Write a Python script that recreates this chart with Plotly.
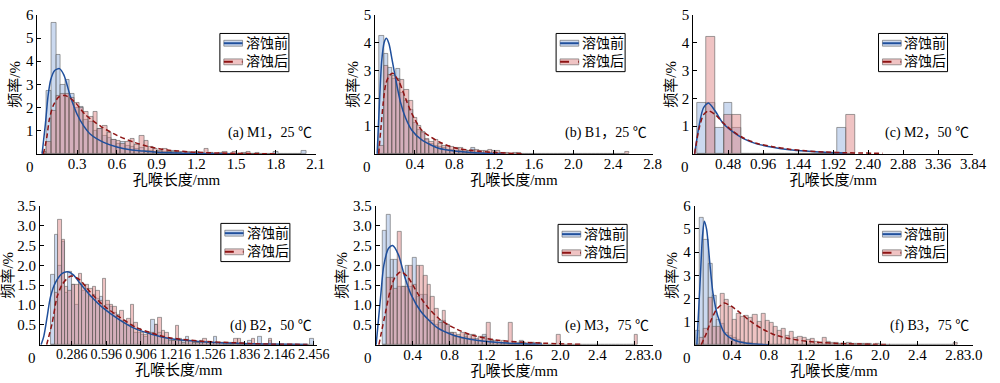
import plotly.graph_objects as go

# ======================= DATA =======================
# (a) M1, 25 ℃  -- histogram bins: start, width ; heights in %
bin_start_a, bin_width_a = 0.035, 0.035
blue_a = [0, 2.7, 5.65, 4.27, 3.0, 3.2, 2.6, 2.0, 2.05, 1.45,
          1.4, 1.0, 1.1, 0.8, 0.7, 0.6, 0.45, 0.5, 0.35, 0.3,
          0.2, 0.25, 0.15, 0.15, 0.1, 0.1, 0.1, 0.1, 0.15, 0.08,
          0, 0.05, 0, 0.05, 0, 0, 0.05, 0, 0, 0,
          0, 0, 0, 0, 0, 0, 0, 0, 0, 0,
          0.1, 0, 0, 0, 0, 0, 0.12]
red_a = [0.1, 0.5, 1.85, 2.5, 2.6, 2.6, 2.4, 2.2, 2.0, 1.8,
         1.6, 1.8, 1.1, 1.2, 0.9, 0.6, 0.55, 0.45, 0.5, 0.65,
         0.4, 0.8, 0.55, 0.3, 0.2, 0.15, 0.2, 0.1, 0.1, 0.05,
         0.1, 0.1, 0.05, 0.1, 0.05, 0.2, 0.05, 0, 0.05, 0.08,
         0, 0.08, 0, 0.05, 0.08, 0, 0.05]
fit_blue_a_x = [0.035, 0.06, 0.08, 0.10, 0.13, 0.166, 0.2, 0.25, 0.3, 0.35, 0.4, 0.5, 0.6, 0.7, 0.8, 0.9, 1.0, 1.2, 1.5]
fit_blue_a_y = [0, 1.3, 2.5, 3.2, 3.6, 3.68, 3.4, 2.45, 1.7, 1.2, 0.85, 0.5, 0.3, 0.18, 0.12, 0.07, 0.05, 0.02, 0.0]
fit_red_a_x = [0.045, 0.07, 0.09, 0.12, 0.16, 0.21, 0.28, 0.36, 0.48, 0.6, 0.73, 0.85, 0.98, 1.2, 1.5, 1.8]
fit_red_a_y = [0, 0.7, 1.5, 2.1, 2.45, 2.52, 2.25, 1.7, 1.18, 0.8, 0.5, 0.3, 0.17, 0.07, 0.02, 0.0]
xtick_a = [0.3, 0.6, 0.9, 1.2, 1.5, 1.8, 2.1]
xtick_text_a = ["0.3", "0.6", "0.9", "1.2", "1.5", "1.8", "2.1"]
ytick_a = [1, 2, 3, 4, 5, 6]
ytick_text_a = ["1", "2", "3", "4", "5", "6"]

# (b) B1, 25 ℃
bin_start_b, bin_width_b = 0.045, 0.042
blue_b = [4.26, 3.6, 3.1, 2.7, 3.05, 2.2, 1.9, 1.6, 1.1, 0.85,
          0.75, 0.5, 0.35, 0.3, 0.25, 0.2, 0.15, 0.15, 0.1, 0.1,
          0.05, 0.1, 0.2, 0.05, 0.05, 0, 0.05, 0, 0.05]
red_b = [0.3, 3.15, 2.85, 2.8, 2.7, 2.65, 2.3, 1.9, 1.3, 1.0,
         0.8, 0.55, 0.45, 0.5, 0.35, 0.3, 0.3, 0.25, 0.2, 0.2,
         0.15, 0.1, 0.15, 0.15, 0.1, 0.12, 0.15, 0.1, 0.1, 0.05,
         0.05, 0, 0.05, 0.05, 0, 0, 0, 0, 0, 0,
         0, 0, 0, 0, 0, 0, 0, 0, 0, 0,
         0, 0, 0, 0, 0, 0, 0, 0, 0, 0.08]
fit_blue_b_x = [0.02, 0.04, 0.065, 0.09, 0.113, 0.14, 0.17, 0.206, 0.256, 0.306, 0.37, 0.47, 0.64, 0.8, 1.0, 1.3]
fit_blue_b_y = [0, 1.6, 3.3, 4.0, 4.16, 3.95, 3.4, 2.7, 1.85, 1.3, 0.85, 0.5, 0.2, 0.1, 0.04, 0.0]
fit_red_b_x = [0.035, 0.06, 0.08, 0.106, 0.14, 0.175, 0.24, 0.306, 0.37, 0.47, 0.64, 0.8, 0.97, 1.2, 1.5]
fit_red_b_y = [0, 1.0, 1.8, 2.5, 2.8, 2.9, 2.6, 2.0, 1.45, 0.85, 0.44, 0.22, 0.12, 0.05, 0.0]
xtick_b = [0.4, 0.8, 1.2, 1.6, 2.0, 2.4, 2.8]
xtick_text_b = ["0.4", "0.8", "1.2", "1.6", "2.0", "2.4", "2.8"]
ytick_b = [1, 2, 3, 4, 5]
ytick_text_b = ["1", "2", "3", "4", "5"]

# (c) M2, 50 ℃
bin_start_c, bin_width_c = 0.06, 0.12
blue_c = [1.85, 1.85, 0.93, 1.85, 0.93, 0, 0, 0, 0, 0, 0, 0, 0, 0, 0, 0, 0.93, 0]
red_c = [0, 4.2, 0, 1.4, 1.4, 0, 0, 0, 0, 0, 0, 0, 0, 0, 0, 0, 0, 1.4]
fit_blue_c_x = [0.02, 0.08, 0.14, 0.21, 0.3, 0.41, 0.55, 0.69, 0.87, 1.09, 1.32, 1.54, 1.8, 2.1]
fit_blue_c_y = [0, 1.0, 1.65, 1.83, 1.55, 1.1, 0.78, 0.55, 0.36, 0.24, 0.15, 0.1, 0.06, 0.03]
fit_red_c_x = [0.02, 0.08, 0.14, 0.21, 0.3, 0.41, 0.55, 0.69, 0.87, 1.09, 1.32, 1.54, 1.8, 2.1, 2.6]
fit_red_c_y = [0, 0.9, 1.4, 1.55, 1.42, 1.12, 0.8, 0.57, 0.38, 0.26, 0.17, 0.11, 0.07, 0.04, 0.02]
xtick_c = [0.48, 0.96, 1.44, 1.92, 2.40, 2.88, 3.36, 3.84]
xtick_text_c = ["0.48", "0.96", "1.44", "1.92", "2.40", "2.88", "3.36", "3.84"]
ytick_c = [1, 2, 3, 4, 5]
ytick_text_c = ["1", "2", "3", "4", "5"]

# (d) B2, 50 ℃
bin_start_d, bin_width_d = 0.1, 0.031
blue_d = [1.76, 2.78, 2.0, 2.6, 1.3, 1.84, 1.5, 1.0, 1.5, 1.35,
          1.4, 1.2, 1.25, 1.15, 1.2, 0.9, 1.0, 0.95, 0.8, 0.75,
          0.6, 0.55, 0.5, 0.5, 0.3, 0.3, 0.25, 0.2, 0.3, 0.62,
          0.5, 0.3, 0.2, 0.15, 0.15, 0.1, 0.1, 0.15, 0.1, 0.2,
          0.1, 0.05, 0.05, 0.1, 0.05, 0.05, 0.05, 0.2, 0.05, 0.05,
          0.05, 0, 0.05, 0.05, 0, 0.05, 0, 0.1, 0, 0,
          0.2, 0, 0, 0.1, 0, 0, 0, 0, 0, 0,
          0, 0, 0, 0, 0, 0.15]
red_d = [0, 1.3, 3.15, 2.65, 1.45, 1.37, 1.5, 1.5, 1.8, 1.5,
         1.5, 1.4, 1.45, 1.35, 1.1, 1.65, 1.1, 1.0, 0.95, 0.7,
         0.85, 0.6, 0.65, 1.0, 0.55, 0.4, 0.3, 0.25, 0.3, 0.3,
         0.5, 0.68, 0.35, 0.3, 0.1, 0.1, 0.47, 0.1, 0.05, 0.1,
         0.1, 0.05, 0.05, 0.05, 0.15, 0.05, 0.05, 0.05, 0.05, 0.05,
         0, 0.05, 0, 0.15, 0.15, 0, 0, 0, 0.15, 0,
         0, 0, 0, 0.15]
fit_blue_d_x = [0.01, 0.035, 0.065, 0.094, 0.14, 0.2, 0.25, 0.3, 0.36, 0.45, 0.566, 0.714, 0.86, 1.01, 1.16, 1.45, 1.75, 2.0, 2.4]
fit_blue_d_y = [0, 0.22, 0.71, 1.2, 1.57, 1.8, 1.84, 1.76, 1.55, 1.25, 0.93, 0.63, 0.4, 0.26, 0.16, 0.08, 0.04, 0.02, 0.01]
fit_red_d_x = [0.06, 0.11, 0.153, 0.2, 0.256, 0.29, 0.36, 0.45, 0.566, 0.714, 0.86, 1.01, 1.16, 1.45, 1.75, 2.0, 2.4]
fit_red_d_y = [0, 0.55, 1.2, 1.52, 1.7, 1.73, 1.63, 1.33, 1.0, 0.7, 0.44, 0.29, 0.18, 0.09, 0.05, 0.02, 0.01]
xtick_d = [0.286, 0.596, 0.906, 1.216, 1.526, 1.836, 2.146, 2.456]
xtick_text_d = ["0.286", "0.596", "0.906", "1.216", "1.526", "1.836", "2.146", "2.456"]
ytick_d = [0.5, 1.0, 1.5, 2.0, 2.5, 3.0, 3.5]
ytick_text_d = ["0.5", "1.0", "1.5", "2.0", "2.5", "3.0", "3.5"]

# (e) M3, 75 ℃
bin_start_e, bin_width_e = 0.08, 0.04
blue_e = [2.86, 3.27, 2.15, 2.15, 1.45, 1.45, 2.0, 1.45, 2.2, 1.2,
          1.25, 1.25, 0.6, 0.6, 0.5, 0.6, 0.6, 0.5, 0.3, 0.2,
          0.2, 0.15, 0.2, 0.15, 0.15, 0.1, 0.1, 0.25, 0.15, 0.12,
          0.05, 0.05, 0.05, 0.05, 0, 0, 0, 0.1, 0, 0,
          0.05]
red_e = [0, 1.7, 1.7, 1.4, 2.84, 1.45, 1.45, 2.0, 1.5, 2.0,
         2.0, 1.75, 1.5, 1.2, 0.9, 0.55, 0.85, 0.5, 0.3, 0.3,
         0.25, 0.3, 0.25, 0.25, 0.25, 0.15, 0.2, 0.2, 0.55, 0.1,
         0.1, 0.05, 0.1, 0.05, 0.55, 0.05, 0.05, 0.05, 0.05, 0,
         0.05, 0, 0.05, 0, 0, 0, 0, 0.26, 0, 0,
         0, 0, 0, 0, 0, 0, 0, 0, 0, 0,
         0, 0, 0, 0, 0, 0, 0, 0, 0.26]
fit_blue_e_x = [0.005, 0.053, 0.088, 0.14, 0.183, 0.246, 0.316, 0.386, 0.49, 0.667, 0.843, 1.02, 1.37, 1.8]
fit_blue_e_y = [0, 1.2, 2.0, 2.43, 2.5, 2.27, 1.7, 1.25, 0.84, 0.43, 0.24, 0.14, 0.05, 0.02]
fit_red_e_x = [0.035, 0.105, 0.158, 0.21, 0.274, 0.35, 0.456, 0.56, 0.7, 0.88, 1.05, 1.3, 1.72, 2.25]
fit_red_e_y = [0, 0.8, 1.37, 1.7, 1.84, 1.7, 1.29, 0.96, 0.63, 0.39, 0.24, 0.12, 0.05, 0.01]
xtick_e = [0.4, 0.8, 1.2, 1.6, 2.0, 2.4, 2.8, 3.0]
xtick_text_e = ["0.4", "0.8", "1.2", "1.6", "2.0", "2.4", "2.8", "3.0"]
ytick_e = [0.5, 1.0, 1.5, 2.0, 2.5, 3.0, 3.5]
ytick_text_e = ["0.5", "1.0", "1.5", "2.0", "2.5", "3.0", "3.5"]

# (f) B3, 75 ℃
bin_start_f, bin_width_f = 0.014, 0.044
blue_f = [0.6, 5.5, 4.55, 3.5, 2.1, 1.1, 0.9, 0.5, 0.4, 0.3,
          0.2, 0.15, 0.1, 0.1, 0.05, 0, 0, 0, 0, 0,
          0, 0, 0, 0, 0, 0, 0, 0, 0, 0,
          0, 0, 0, 0.05, 0, 0, 0.05, 0, 0, 0,
          0.05, 0, 0.05]
red_f = [0, 0.3, 0.7, 2.05, 0.8, 0.8, 2.2, 1.95, 1.65, 1.1,
         1.35, 1.2, 1.25, 1.15, 1.3, 1.0, 1.35, 1.05, 0.95, 0.8,
         0.6, 0.7, 0.4, 0.55, 0.3, 0.35, 0.3, 0.2, 0.25, 0.15,
         0.1, 0.3, 0.15, 0.1, 0.1, 0.05, 0.05, 0.1, 0.05, 0.05,
         0, 0.05, 0, 0, 0.05, 0, 0, 0, 0, 0,
         0, 0, 0, 0, 0, 0, 0, 0, 0, 0,
         0, 0, 0, 0.08]
fit_blue_f_x = [0.024, 0.06, 0.083, 0.104, 0.129, 0.164, 0.198, 0.25, 0.32, 0.425, 0.56, 0.8]
fit_blue_f_y = [0, 2.8, 4.6, 5.33, 4.98, 3.5, 2.22, 1.23, 0.52, 0.21, 0.07, 0.0]
fit_red_f_x = [0.07, 0.129, 0.18, 0.233, 0.285, 0.32, 0.39, 0.494, 0.6, 0.74, 0.877, 1.016, 1.19, 1.54, 2.1]
fit_red_f_y = [0, 0.52, 1.09, 1.51, 1.72, 1.8, 1.68, 1.37, 1.02, 0.66, 0.41, 0.27, 0.16, 0.06, 0.01]
xtick_f = [0.4, 0.8, 1.2, 1.6, 2.0, 2.4, 2.8, 3.0]
xtick_text_f = ["0.4", "0.8", "1.2", "1.6", "2.0", "2.4", "2.8", "3.0"]
ytick_f = [1, 2, 3, 4, 5, 6]
ytick_text_f = ["1", "2", "3", "4", "5", "6"]

labels = ["(a) M1，25 ℃", "(b) B1，25 ℃", "(c) M2，50 ℃",
          "(d) B2，50 ℃", "(e) M3，75 ℃", "(f) B3，75 ℃"]
series_names = ["溶蚀前", "溶蚀后"]
x_title = "孔喉长度/mm"
y_title = "频率/%"

# ======================= STYLE / LAYOUT =======================
W, H = 1000, 383
FONT = "Liberation Serif, Times New Roman, Noto Sans CJK SC, serif"
BLUE_FILL = "rgba(160,185,225,0.55)"
RED_FILL = "rgba(222,130,130,0.48)"
EDGE = "rgba(95,95,95,0.75)"
BLUE_LINE = "#1f4f9c"
RED_LINE = "#8e1414"


def fx(px):
    return px / W


def fy(py):
    return 1 - py / H


panels = [
    dict(s=bin_start_a, w=bin_width_a, b=blue_a, r=red_a,
         fb=(fit_blue_a_x, fit_blue_a_y), fr=(fit_red_a_x, fit_red_a_y),
         xr=[0, 2.1], xt=(xtick_a, xtick_text_a), yr=[0, 6], yt=(ytick_a, ytick_text_a),
         box=(38, 320, 7, 149), leg=(223, 26), lab=(318, 128), xfs=15),
    dict(s=bin_start_b, w=bin_width_b, b=blue_b, r=red_b,
         fb=(fit_blue_b_x, fit_blue_b_y), fr=(fit_red_b_x, fit_red_b_y),
         xr=[0, 2.8], xt=(xtick_b, xtick_text_b), yr=[0, 5], yt=(ytick_b, ytick_text_b),
         box=(380.5, 662, 7, 149), leg=(564, 26), lab=(658, 128), xfs=15),
    dict(s=bin_start_c, w=bin_width_c, b=blue_c, r=red_c,
         fb=(fit_blue_c_x, fit_blue_c_y), fr=(fit_red_c_x, fit_red_c_y),
         xr=[0, 3.84], xt=(xtick_c, xtick_text_c), yr=[0, 5], yt=(ytick_c, ytick_text_c),
         box=(703, 987, 7, 149), leg=(891, 26), lab=(985, 128), xfs=15),
    dict(s=bin_start_d, w=bin_width_d, b=blue_d, r=red_d,
         fb=(fit_blue_d_x, fit_blue_d_y), fr=(fit_red_d_x, fit_red_d_y),
         xr=[0, 2.49], xt=(xtick_d, xtick_text_d), yr=[0, 3.5], yt=(ytick_d, ytick_text_d),
         box=(40.5, 322, 202, 344), leg=(224, 220), lab=(318, 325), xfs=14),
    dict(s=bin_start_e, w=bin_width_e, b=blue_e, r=red_e,
         fb=(fit_blue_e_x, fit_blue_e_y), fr=(fit_red_e_x, fit_red_e_y),
         xr=[0, 3.0], xt=(xtick_e, xtick_text_e), yr=[0, 3.5], yt=(ytick_e, ytick_text_e),
         box=(381, 662, 202, 344), leg=(566, 221), lab=(660, 325), xfs=15),
    dict(s=bin_start_f, w=bin_width_f, b=blue_f, r=red_f,
         fb=(fit_blue_f_x, fit_blue_f_y), fr=(fit_red_f_x, fit_red_f_y),
         xr=[0, 3.0], xt=(xtick_f, xtick_text_f), yr=[0, 6], yt=(ytick_f, ytick_text_f),
         box=(704.5, 987, 202, 344), leg=(891, 221), lab=(985, 325), xfs=15),
]

fig = go.Figure()
shapes = []
annotations = []
tickfont = dict(family=FONT, size=15, color="black")
titlefont = dict(family=FONT, size=15, color="black")
layout_axes = {}

for k, p in enumerate(panels):
    sfx = "" if k == 0 else str(k + 1)
    xa, ya = "x" + sfx, "y" + sfx
    cb = [p["s"] + p["w"] * (i + 0.5) for i in range(len(p["b"]))]
    cr = [p["s"] + p["w"] * (i + 0.5) for i in range(len(p["r"]))]
    fig.add_trace(go.Bar(x=cb, y=p["b"], width=p["w"], name=series_names[0],
                         marker=dict(color=BLUE_FILL, line=dict(color=EDGE, width=0.8)),
                         xaxis=xa, yaxis=ya, showlegend=False))
    fig.add_trace(go.Bar(x=cr, y=p["r"], width=p["w"], name=series_names[1],
                         marker=dict(color=RED_FILL, line=dict(color=EDGE, width=0.8)),
                         xaxis=xa, yaxis=ya, showlegend=False))
    fig.add_trace(go.Scatter(x=p["fb"][0], y=p["fb"][1], mode="lines",
                             line=dict(color=BLUE_LINE, width=1.5, shape="spline", smoothing=0.7),
                             xaxis=xa, yaxis=ya, showlegend=False, name=series_names[0]))
    fig.add_trace(go.Scatter(x=p["fr"][0], y=p["fr"][1], mode="lines",
                             line=dict(color=RED_LINE, width=1.5, dash="5px,3px", shape="spline", smoothing=0.7),
                             xaxis=xa, yaxis=ya, showlegend=False, name=series_names[1]))

    x0, x1, yt, yb = p["box"]
    layout_axes["xaxis" + sfx] = dict(
        domain=[fx(x0), fx(x1)], range=p["xr"], anchor=ya,
        tickmode="array", tickvals=[0] + p["xt"][0], ticktext=[""] + p["xt"][1],
        ticks="inside", ticklen=4, tickwidth=1, tickcolor="black", tickangle=0,
        ticklabelstandoff=-4,
        showline=True, linecolor="black", linewidth=1, showgrid=False, zeroline=False,
        tickfont=dict(family=FONT, size=p["xfs"], color="black"),
        title=dict(text=x_title, font=titlefont, standoff=2),
    )
    layout_axes["yaxis" + sfx] = dict(
        domain=[fy(yb), fy(yt)], range=p["yr"], anchor=xa,
        tickmode="array", tickvals=p["yt"][0], ticktext=p["yt"][1],
        ticks="inside", ticklen=4, tickwidth=1, tickcolor="black", tickangle=0,
        showline=True, linecolor="black", linewidth=1, showgrid=False, zeroline=False,
        tickfont=tickfont,
        title=dict(text=y_title, font=titlefont, standoff=1),
    )

    # "0" label at the origin corner (shifted left as in the original)
    annotations.append(dict(x=fx(x0 - 8), y=fy(yb + 13), xref="paper", yref="paper",
                            text="0", showarrow=False, font=tickfont,
                            xanchor="center", yanchor="middle"))
    # panel label
    annotations.append(dict(x=fx(p["lab"][0]), y=fy(p["lab"][1]), xref="paper", yref="paper",
                            text=labels[k], showarrow=False,
                            font=dict(family=FONT, size=14, color="black"),
                            xanchor="right", yanchor="middle"))

    # manual legend
    lx, ly = p["leg"]
    bw, bh = 70, 39
    shapes.append(dict(type="rect", xref="paper", yref="paper",
                       x0=fx(lx), x1=fx(lx + bw), y0=fy(ly + bh), y1=fy(ly),
                       line=dict(color="black", width=1), fillcolor="white", layer="above"))
    for j, (fill, lcol, dash) in enumerate([(BLUE_FILL, BLUE_LINE, "solid"),
                                            (RED_FILL, RED_LINE, "dash")]):
        cy = ly + 10 + 19 * j
        shapes.append(dict(type="rect", xref="paper", yref="paper",
                           x0=fx(lx + 4), x1=fx(lx + 23), y0=fy(cy + 3), y1=fy(cy - 3),
                           line=dict(color=EDGE, width=0.8), fillcolor=fill, layer="above"))
        shapes.append(dict(type="line", xref="paper", yref="paper",
                           x0=fx(lx + 4), x1=fx(lx + 23), y0=fy(cy), y1=fy(cy),
                           line=dict(color=lcol, width=2, dash=dash), layer="above"))
        annotations.append(dict(x=fx(lx + 24), y=fy(cy), xref="paper", yref="paper",
                                text=series_names[j], showarrow=False,
                                font=dict(family=FONT, size=14, color="black"),
                                xanchor="left", yanchor="middle"))

fig.update_layout(
    width=W, height=H, margin=dict(l=0, r=0, t=0, b=0),
    barmode="overlay", bargap=0, showlegend=False,
    plot_bgcolor="white", paper_bgcolor="white",
    shapes=shapes, annotations=annotations,
    **layout_axes,
)

fig.write_html("out.html", config={"displayModeBar": False},
               post_script="document.body.style.margin='0';document.body.style.overflow='hidden';")
